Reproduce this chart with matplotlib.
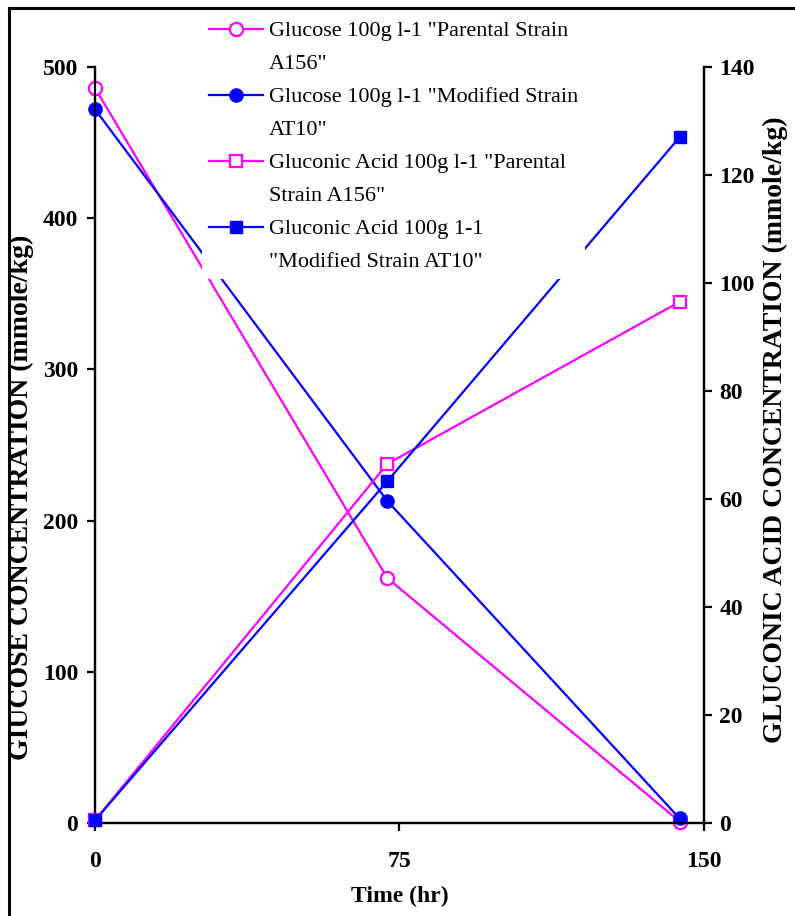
import matplotlib
matplotlib.use("Agg")
import matplotlib.pyplot as plt
from matplotlib.lines import Line2D

plt.rcParams['font.family'] = ['Liberation Serif', 'DejaVu Serif']

# Sampling times (hr)
time_hr = [0, 72, 144]

# Glucose concentration (mmole/kg), left axis
glucose_parental = [486, 162, 1]
glucose_modified = [472, 213, 3]

# Gluconic acid concentration (mmole/kg), right axis
gluconic_parental = [0.5, 66.5, 96.5]
gluconic_modified = [0.5, 63.3, 127]

x_ticks = [0, 75, 150]
left_ticks = [0, 100, 200, 300, 400, 500]
right_ticks = [0, 20, 40, 60, 80, 100, 120, 140]

labels = [
    ('Glucose 100g l-1 "Parental Strain', 'A156"'),
    ('Glucose 100g l-1 "Modified Strain', 'AT10"'),
    ('Gluconic Acid 100g l-1 "Parental', 'Strain A156"'),
    ('Gluconic Acid 100g 1-1', '"Modified Strain AT10"'),
]

MAG = '#FF00FF'
BLU = '#0000FF'

fig = plt.figure(figsize=(7.95, 9.16), dpi=100)
ax = fig.add_axes([0.1195, 0.1015, 0.7660, 0.8254])
ax2 = ax.twinx()

lw = 1.6
ms = 9.5
l1, = ax.plot(time_hr, glucose_parental, color=MAG, lw=lw, marker='o', ms=ms,
              mfc='white', mec=MAG, mew=1.6, clip_on=False, zorder=3)
l2, = ax.plot(time_hr, glucose_modified, color=BLU, lw=lw, marker='o', ms=ms,
              mfc=BLU, mec=BLU, clip_on=False, zorder=3)
l3, = ax2.plot(time_hr, gluconic_parental, color=MAG, lw=lw, marker='s', ms=ms - 1,
               mfc='white', mec=MAG, mew=1.6, clip_on=False, zorder=3)
l4, = ax2.plot(time_hr, gluconic_modified, color=BLU, lw=lw, marker='s', ms=ms - 1,
               mfc=BLU, mec=BLU, clip_on=False, zorder=3)

ax.set_xlim(0, 150)
ax.set_ylim(0, 500)
ax2.set_ylim(0, 140)
ax.set_xticks(x_ticks)
ax.set_yticks(left_ticks)
ax2.set_yticks(right_ticks)

for a in (ax, ax2):
    for s in a.spines.values():
        s.set_linewidth(1.6)
    a.spines['top'].set_visible(False)
    a.tick_params(direction='out', length=6, width=1.6, labelsize=17)
    for t in a.get_xticklabels() + a.get_yticklabels():
        t.set_fontweight('bold')
ax.tick_params(axis='x', pad=14)
ax.tick_params(axis='y', pad=6)
ax2.tick_params(axis='y', pad=5)

ax.set_xlabel('Time (hr)', fontsize=17, fontweight='bold', labelpad=10)
ax.set_ylabel('GIUCOSE CONCENTRATION (mmole/kg)', fontsize=20, fontweight='bold')
ax2.set_ylabel('GLUCONIC ACID CONCENTRATION (mmole/kg)', fontsize=20, fontweight='bold')
ax.yaxis.set_label_coords(-0.1, 0.431)
ax2.yaxis.set_label_coords(1.097, 0.52)

# Legend: each entry's label wraps onto a second row with an empty handle
blank = Line2D([], [], linestyle='none')
handles, texts = [], []
for h, (first, second) in zip([l1, l2, l3, l4], labels):
    handles += [h, blank]
    texts += [first, second]
leg = fig.legend(handles, texts, loc='upper left',
                 bbox_to_anchor=(0.254, 0.9845), fontsize=16,
                 frameon=True, facecolor='white', edgecolor='none',
                 framealpha=1, fancybox=False, borderpad=0.3,
                 handlelength=2.43, handletextpad=0.3, labelspacing=0.56,
                 borderaxespad=0)
leg.set_zorder(10)

# Page border along the top and left edges
fig.add_artist(Line2D([0.011, 1.0], [0.9915, 0.9915], color='black', lw=2.2,
                      transform=fig.transFigure))
fig.add_artist(Line2D([0.011, 0.011], [0.0, 0.9915], color='black', lw=2.2,
                      transform=fig.transFigure))

fig.savefig('out.png', dpi=100)
